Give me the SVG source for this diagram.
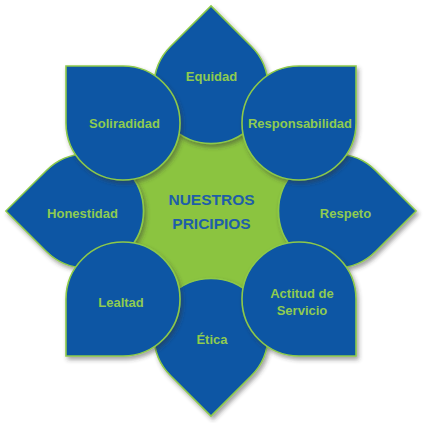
<svg xmlns="http://www.w3.org/2000/svg" width="425" height="423" viewBox="0 0 425 423">
  <style>
    .petal { fill: #0B56A4; stroke: #8DC94A; stroke-width: 1.6; }
    .lbl { font-family: "Liberation Sans", Arial, sans-serif; font-weight: bold; font-size: 13px; fill: #8FCB50; text-anchor: middle; }
    .ctr { font-family: "Liberation Sans", Arial, sans-serif; font-weight: bold; font-size: 15.5px; fill: #1E5EA8; text-anchor: middle; }
  </style>
  <defs>
    <filter id="sh" x="-30%" y="-30%" width="160%" height="160%">
      <feDropShadow dx="2" dy="3" stdDeviation="2" flood-color="#333333" flood-opacity="0.45"/>
    </filter>
    <path id="drop" d="M -57,-57 L 0,-57 A 57 57 0 0 1 57,0 A 57 57 0 0 1 0,57 A 57 57 0 0 1 -57,0 Z"/>
  </defs>
  <rect width="425" height="423" fill="#ffffff"/>

  <g id="center">
    <polygon points="308,171 308,251 251,308 171,308 114,251 114,171 171,114 251,114" fill="#8BC43F" filter="url(#sh)"/>
  </g>

  <g id="equidad">
    <g filter="url(#sh)"><use href="#drop" class="petal" transform="translate(211,86.5) rotate(45)"/></g>
    <text class="lbl" x="211.5" y="80.5">Equidad</text>
  </g>
  <g id="respeto">
    <g filter="url(#sh)"><use href="#drop" class="petal" transform="translate(335.5,211) rotate(135)"/></g>
    <text class="lbl" x="345.5" y="217.5">Respeto</text>
  </g>
  <g id="etica">
    <g filter="url(#sh)"><use href="#drop" class="petal" transform="translate(211,335.5) rotate(225)"/></g>
    <text class="lbl" x="212" y="344">Ética</text>
  </g>
  <g id="honestidad">
    <g filter="url(#sh)"><use href="#drop" class="petal" transform="translate(86.5,211) rotate(-45)"/></g>
    <text class="lbl" x="82.5" y="218">Honestidad</text>
  </g>
  <g id="soliradidad">
    <g filter="url(#sh)"><use href="#drop" class="petal" transform="translate(123,123)"/></g>
    <text class="lbl" x="124.5" y="127.5">Soliradidad</text>
  </g>
  <g id="responsabilidad">
    <g filter="url(#sh)"><use href="#drop" class="petal" transform="translate(299,123) rotate(90)"/></g>
    <text class="lbl" x="300" y="127.5">Responsabilidad</text>
  </g>
  <g id="actitud">
    <g filter="url(#sh)"><use href="#drop" class="petal" transform="translate(299,299) rotate(180)"/></g>
    <text class="lbl" x="302" y="298">Actitud de</text>
    <text class="lbl" x="302" y="315">Servicio</text>
  </g>
  <g id="lealtad">
    <g filter="url(#sh)"><use href="#drop" class="petal" transform="translate(123,299) rotate(270)"/></g>
    <text class="lbl" x="121" y="307">Lealtad</text>
  </g>

  <g id="center-label">
    <text class="ctr" x="211.5" y="205">NUESTROS</text>
    <text class="ctr" x="211.5" y="228.5">PRICIPIOS</text>
  </g>
  <g id="connectors"/>
</svg>
